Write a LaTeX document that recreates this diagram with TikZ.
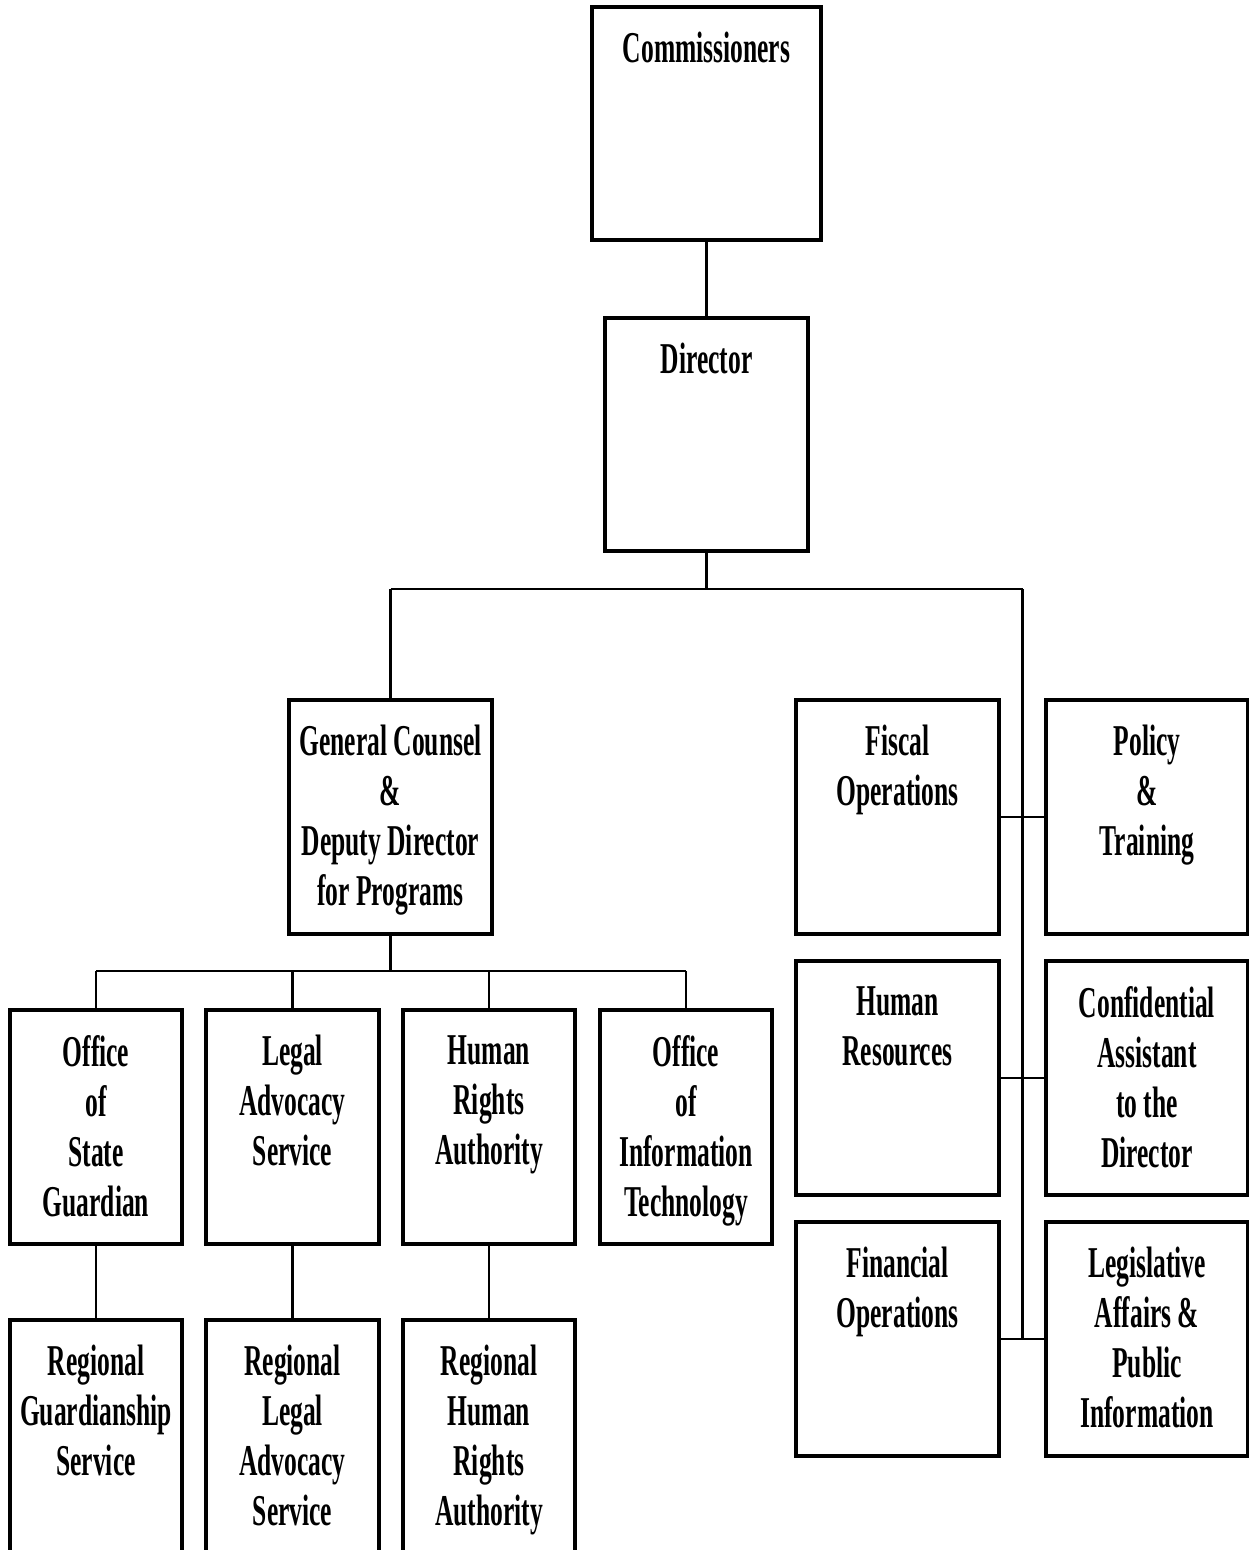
\documentclass[tikz,border=0pt]{standalone}
\usepackage{fontspec}
\newfontfamily\orgfont{Liberation Serif}[FakeStretch=0.58]
\usetikzlibrary{positioning}

\tikzset{
  unit/.style={draw, line width=3.2pt, inner sep=0pt, outer sep=0pt, anchor=north west},
  unitname/.style={font=\orgfont\bfseries\fontsize{44}{50}\selectfont, align=center, inner sep=0pt, anchor=north},
  link/.style={line width=2.4pt},
}

% one box of the chart, with its name set from the top
\newcommand{\orgunit}[6]{%
  \node[unit, minimum width=#4pt, minimum height=#5pt] (#1) at (#2,#3) {};
  \node[unitname] (#1-t) at ([yshift=-25pt]#1.north) {#6};
}

\begin{document}
\begin{tikzpicture}[x=1pt,y=-1pt]
  \useasboundingbox (0,0) rectangle (1249,1550);

  % Top of the chart
  \orgunit{cm}{592}{7}{229}{233}{Commissioners}
  \orgunit{dir}{605}{318}{203}{233}{Director}
  \draw[link] (cm.south) -- (dir.north);

  % Programs branch
  \orgunit{gc}{289}{700}{203}{234}{General Counsel\\\&\\Deputy Director\\for Programs}

  \orgunit{osg}{10}{1010}{172}{234}{Office\\of\\State\\Guardian}
  \orgunit{las}{206}{1010}{173}{234}{Legal\\Advocacy\\Service}
  \orgunit{hra}{403}{1010}{172}{234}{Human\\Rights\\Authority}
  \orgunit{oit}{600}{1010}{172}{234}{Office\\of\\Information\\Technology}

  \orgunit{rgs}{10}{1320}{172}{234}{Regional\\Guardianship\\Service}
  \orgunit{rlas}{206}{1320}{173}{234}{Regional\\Legal\\Advocacy\\Service}
  \orgunit{rhra}{403}{1320}{172}{234}{Regional\\Human\\Rights\\Authority}

  % Staff offices
  \orgunit{fo}{796}{700}{203}{234}{Fiscal\\Operations}
  \orgunit{pt}{1046}{700}{202}{234}{Policy\\\&\\Training}
  \orgunit{hr}{796}{961}{203}{234}{Human\\Resources}
  \orgunit{ca}{1046}{961}{202}{234}{Confidential\\Assistant\\to the\\Director}
  \orgunit{fin}{796}{1222}{203}{234}{Financial\\Operations}
  \orgunit{la}{1046}{1222}{202}{234}{Legislative\\Affairs \&\\Public\\Information}

  % Connectors below the director
  \coordinate (topbus) at (dir.south |- 0,589);
  \coordinate (busl) at (gc.north |- topbus);
  \coordinate (busr) at (1022.5,589);
  \draw[link] (dir.south) -- (topbus);
  \draw[link] (busl) -- (busr);
  \draw[link] (busl) -- (gc.north);
  \draw[link] (busr) -- (busr |- fin.east);

  % Connectors below the general counsel
  \coordinate (gcbus) at (gc.south |- 0,971);
  \draw[link] (gc.south) -- (gcbus);
  \draw[link] (osg.north |- gcbus) -- (oit.north |- gcbus);
  \foreach \n in {osg,las,hra,oit}
    \draw[link] (\n.north |- gcbus) -- (\n.north);
  \foreach \a/\b in {osg/rgs,las/rlas,hra/rhra}
    \draw[link] (\a.south) -- (\b.north);

  % Staff links
  \foreach \a/\b in {fo/pt,hr/ca,fin/la}
    \draw[link] (\a.east) -- (\b.west);
\end{tikzpicture}
\end{document}
